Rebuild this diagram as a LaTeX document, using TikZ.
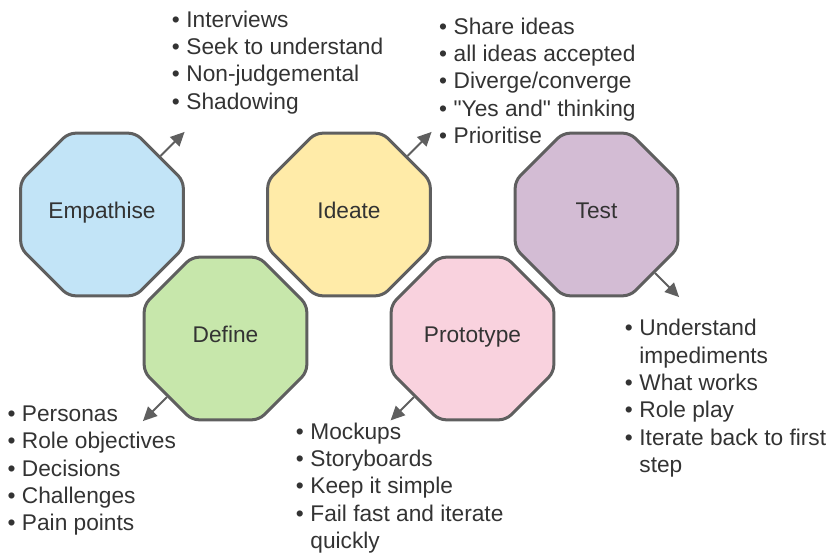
\documentclass[tikz,border=0pt]{standalone}
\usepackage{fontspec}
\setmainfont{Liberation Sans}[Ligatures=TeXOff]
\usetikzlibrary{shapes.geometric,arrows.meta}
\definecolor{edge}{HTML}{5F5F5F}
\definecolor{txt}{HTML}{333333}
\definecolor{cEmp}{HTML}{C2E4F7}
\definecolor{cDef}{HTML}{C7E7AB}
\definecolor{cIde}{HTML}{FFEBA8}
\definecolor{cPro}{HTML}{F9D2DE}
\definecolor{cTes}{HTML}{D3BCD4}
\newcommand{\bl}{\makebox[14.5pt][l]{•}}
\newcommand{\nb}{\hspace*{14.5pt}}
\tikzset{
  octa/.style={regular polygon, regular polygon sides=8, minimum size=176pt,
    inner sep=0pt, draw=edge, line width=3pt, rounded corners=7pt,
    text=txt, text height=8.4pt, text depth=0pt,
    font=\fontsize{22.7}{27.3}\selectfont},
  arr/.style={draw=edge, line width=2pt, -{Triangle[length=14pt,width=13pt]}},
  lst/.style={anchor=base west, inner sep=0pt, text=txt, font=\fontsize{22.7}{27.3}\selectfont}
}
\begin{document}
\begin{tikzpicture}[x=1pt,y=1pt]
\useasboundingbox (0,0) rectangle (830,552);
\node[octa, fill=cEmp] (emp) at (102,337.5) {Empathise};
\node[octa, fill=cDef] (def) at (225.5,213.5) {Define};
\node[octa, fill=cIde] (ide) at (349,337.5) {Ideate};
\node[octa, fill=cPro] (pro) at (472.5,213.5) {Prototype};
\node[octa, fill=cTes] (tes) at (596.5,337.5) {Test};

\path (emp.45) ++(45:34) coordinate (empT);
\path (ide.45) ++(45:34) coordinate (ideT);
\path (def.-135) ++(-135:34) coordinate (defT);
\path (pro.-135) ++(-135:33) coordinate (proT);
\path (tes.-45) ++(-45:34) coordinate (tesT);
\draw[arr] (emp.45) -- (empT);
\draw[arr] (ide.45) -- (ideT);
\draw[arr] (def.-135) -- (defT);
\draw[arr] (pro.-135) -- (proT);
\draw[arr] (tes.-45) -- (tesT);

\node[lst] (lEmp) at (171.7,524.7) {\begin{tabular}[t]{@{}l@{}}
\bl Interviews\\ \bl Seek to understand\\ \bl Non-judgemental\\ \bl Shadowing\end{tabular}};
\node[lst] (lIde) at (439,517.7) {\begin{tabular}[t]{@{}l@{}}
\bl Share ideas\\ \bl all ideas accepted\\ \bl Diverge/converge\\ \bl "Yes and" thinking\\ \bl Prioritise\end{tabular}};
\node[lst] (lDef) at (7.3,130.3) {\begin{tabular}[t]{@{}l@{}}
\bl Personas\\ \bl Role objectives\\ \bl Decisions\\ \bl Challenges\\ \bl Pain points\end{tabular}};
\node[lst] (lPro) at (295.7,112.7) {\begin{tabular}[t]{@{}l@{}}
\bl Mockups\\ \bl Storyboards\\ \bl Keep it simple\\ \bl Fail fast and iterate\\ \nb quickly\end{tabular}};
\node[lst] (lTes) at (624.7,216) {\begin{tabular}[t]{@{}l@{}}
\bl Understand\\ \nb impediments\\ \bl What works\\ \bl Role play\\ \bl Iterate back to first\\ \nb step\end{tabular}};
\end{tikzpicture}
\end{document}
